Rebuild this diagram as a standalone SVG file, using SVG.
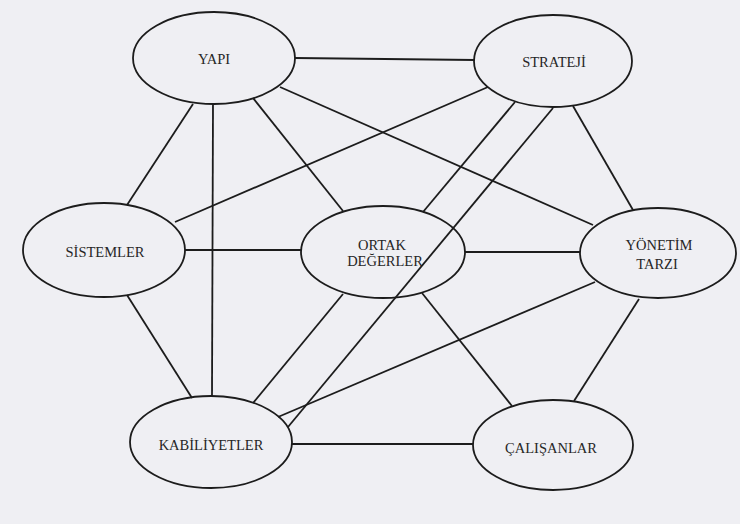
<svg xmlns="http://www.w3.org/2000/svg" width="740" height="524" viewBox="0 0 740 524">
<style>
.bg{fill:#efeff3}
.n ellipse{fill:#efeff3;stroke:#1c1c1c;stroke-width:1.8}
.n text{font-family:"Liberation Serif","Times New Roman",serif;font-size:14.5px;fill:#262626;text-anchor:middle}
#connectors line{stroke:#1c1c1c;stroke-width:1.8}
</style>
<rect class="bg" x="0" y="0" width="740" height="524"/>
<g id="yapi" class="n"><ellipse cx="214" cy="58" rx="81" ry="46"/><text x="214" y="64">YAPI</text></g>
<g id="strateji" class="n"><ellipse cx="553" cy="61" rx="79" ry="46"/><text x="554" y="67">STRATEJİ</text></g>
<g id="sistemler" class="n"><ellipse cx="104" cy="250" rx="81" ry="47"/><text x="105" y="257">SİSTEMLER</text></g>
<g id="ortak-degerler" class="n"><ellipse cx="383" cy="252" rx="82" ry="46"/><text x="382" y="250">ORTAK</text><text x="385" y="266">DEĞERLER</text></g>
<g id="yonetim-tarzi" class="n"><ellipse cx="658" cy="253" rx="78" ry="45"/><text x="659" y="250">YÖNETİM</text><text x="657" y="269">TARZI</text></g>
<g id="kabiliyetler" class="n"><ellipse cx="211" cy="442" rx="81" ry="46"/><text x="211" y="450">KABİLİYETLER</text></g>
<g id="calisanlar" class="n"><ellipse cx="553" cy="445" rx="80" ry="45"/><text x="551" y="453">ÇALIŞANLAR</text></g>
<g id="connectors">
<line x1="295" y1="58" x2="475" y2="60"/>
<line x1="193" y1="104" x2="127" y2="205"/>
<line x1="213" y1="104" x2="212" y2="397"/>
<line x1="253" y1="98" x2="343" y2="211"/>
<line x1="280" y1="87" x2="593" y2="225"/>
<line x1="488" y1="87" x2="175" y2="222"/>
<line x1="515" y1="102" x2="423" y2="212"/>
<line x1="553" y1="108" x2="288" y2="427"/>
<line x1="573" y1="106" x2="633" y2="210"/>
<line x1="185" y1="250" x2="302" y2="250"/>
<line x1="465" y1="252" x2="580" y2="252"/>
<line x1="127" y1="295" x2="192" y2="398"/>
<line x1="343" y1="294" x2="253" y2="403"/>
<line x1="422" y1="293" x2="512" y2="406"/>
<line x1="595" y1="282" x2="278" y2="417"/>
<line x1="639" y1="299" x2="574" y2="401"/>
<line x1="292" y1="444" x2="473" y2="444"/>
</g>
</svg>
